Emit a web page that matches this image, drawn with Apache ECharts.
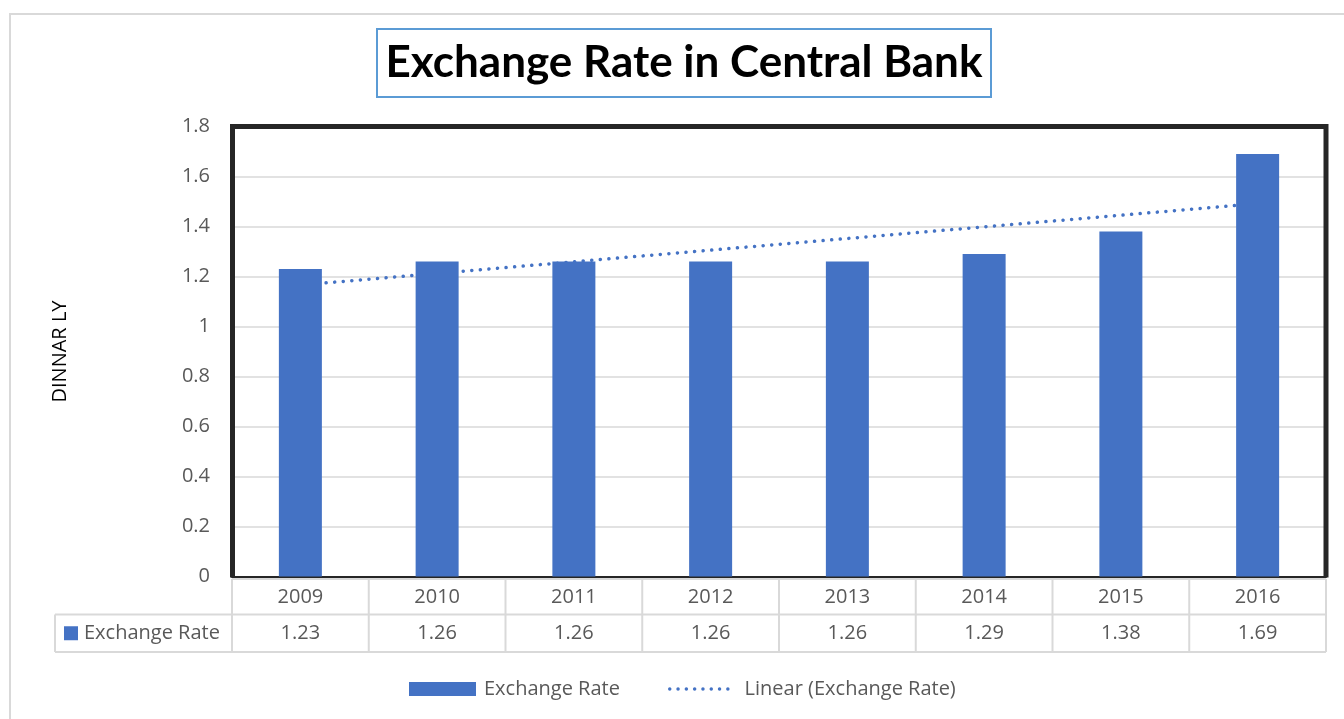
<!DOCTYPE html>
<html>
<head>
<meta charset="utf-8">
<title>Exchange Rate in Central Bank</title>
<script src="https://cdn.jsdelivr.net/npm/echarts@6/dist/echarts.min.js"></script>
<style>
  html, body { margin: 0; padding: 0; background: #ffffff; }
  #chart { width: 1344px; height: 719px; }
</style>
</head>
<body>
<div id="chart"></div>
<script>
// Yearly exchange rate (LYD)
const years = ['2009', '2010', '2011', '2012', '2013', '2014', '2015', '2016'];
const rates = [1.23, 1.26, 1.26, 1.26, 1.26, 1.29, 1.38, 1.69];

const seriesName = 'Exchange Rate';
const trendName = 'Linear (Exchange Rate)';
const axisName = 'DINNAR LY';
const titleText = 'Exchange Rate in Central Bank';

// Least-squares linear trend over the category index
function linearTrend(values) {
  const n = values.length;
  const mx = (n - 1) / 2;
  const my = values.reduce((a, b) => a + b, 0) / n;
  let sxy = 0, sxx = 0;
  values.forEach((v, i) => { sxy += (i - mx) * (v - my); sxx += (i - mx) * (i - mx); });
  const slope = sxy / sxx;
  return values.map((_, i) => my + slope * (i - mx));
}
const trend = linearTrend(rates);

const TITLE_FONT = 'Lato, "Open Sans", sans-serif';
const FONT = '"Open Sans", "Noto Sans", sans-serif';
const FS = 20;
const BLUE = '#4472c4';
const GRAY_TEXT = '#595959';
const LINE_GRAY = '#d9d9d9';

// Legend key for the trend: a row of round dots
function dotRowPath(count, step, r) {
  let p = 'path://';
  for (let i = 0; i < count; i++) {
    const cx = r + i * step;
    p += 'M' + (cx - r) + ',' + r + ' a' + r + ',' + r + ' 0 1,0 ' + (2 * r) + ',0 a' + r + ',' + r + ' 0 1,0 ' + (-2 * r) + ',0 ';
  }
  return p;
}
const dotIcon = dotRowPath(8, 8.3, 1.75);

const grid = { left: 232, right: 18, top: 126.5, bottom: 142.5 };

const chart = echarts.init(document.getElementById('chart'), null, { renderer: 'canvas' });

chart.setOption({
  animation: false,
  backgroundColor: '#ffffff',
  textStyle: { fontFamily: FONT },
  title: {
    text: titleText,
    left: 675,
    top: 29,
    textAlign: 'center',
    padding: [11, 9],
    borderColor: '#5b9bd5',
    borderWidth: 2,
    textStyle: { fontFamily: TITLE_FONT, fontWeight: 'bold', fontSize: 44, lineHeight: 46, color: '#000000' }
  },
  legend: [{
    left: 409, top: 679, padding: 0, itemWidth: 67, itemHeight: 14, itemGap: 10,
    textStyle: { fontFamily: FONT, fontSize: FS, color: GRAY_TEXT, padding: [0, 0, 0, 3] },
    data: [{ name: seriesName, icon: 'rect' }]
  }, {
    left: 668, top: 679, padding: 0, itemWidth: 61.6, itemHeight: 3.5, itemGap: 10,
    textStyle: { fontFamily: FONT, fontSize: FS, color: GRAY_TEXT, padding: [0, 0, 0, 10] },
    data: [{ name: trendName, icon: dotIcon }]
  }],
  grid: grid,
  xAxis: {
    type: 'category',
    data: years,
    axisLine: { show: true, lineStyle: { color: '#262626', width: 2 } },
    axisTick: { show: false },
    axisLabel: { show: false },
    splitLine: { show: false }
  },
  yAxis: {
    type: 'value',
    min: 0, max: 1.8, interval: 0.2,
    name: axisName,
    nameLocation: 'middle',
    nameRotate: 90,
    nameGap: 162,
    nameTextStyle: { fontFamily: FONT, fontSize: FS, color: '#000000' },
    axisLine: { show: false },
    axisTick: { show: false },
    axisLabel: { fontFamily: FONT, fontSize: FS, color: GRAY_TEXT, margin: 22 },
    splitLine: { lineStyle: { color: LINE_GRAY, width: 1.5 } }
  },
  series: [{
    name: trendName,
    type: 'line',
    data: trend,
    symbol: 'none',
    z: 1,
    lineStyle: { color: BLUE, width: 3.5, type: [0.1, 8.5], cap: 'round' },
    itemStyle: { color: BLUE }
  }, {
    name: seriesName,
    type: 'bar',
    data: rates,
    barWidth: 43,
    z: 3,
    itemStyle: { color: BLUE }
  }]
});

// Plot frame and data table under the axis
function drawTable() {
  const x0 = chart.convertToPixel({ xAxisIndex: 0 }, 0);
  const x1 = chart.convertToPixel({ xAxisIndex: 0 }, 1);
  const colW = x1 - x0;
  const left = x0 - colW / 2;
  const right = left + colW * years.length;
  const yTop = chart.convertToPixel({ yAxisIndex: 0 }, 1.8);
  const yBase = chart.convertToPixel({ yAxisIndex: 0 }, 0);

  const rowTop = yBase + 2.5;
  const rowMid = rowTop + 35.5;
  const rowBot = rowMid + 37.5;
  const tableLeft = 55;

  const els = [];
  const lineStyle = { stroke: LINE_GRAY, lineWidth: 2 };

  // outer chart frame
  els.push({ type: 'rect', shape: { x: 10, y: 14, width: 1400, height: 800 }, style: { fill: null, stroke: LINE_GRAY, lineWidth: 2 }, silent: true });

  // plot frame (left, top, right)
  els.push({
    type: 'polyline', z: 10,
    shape: { points: [[left + 0.5, yBase + 1], [left + 0.5, yTop], [right, yTop], [right, yBase + 1]] },
    style: { stroke: '#262626', lineWidth: 5, fill: null, lineJoin: 'miter' }, silent: true
  });

  // horizontal table rules
  els.push({ type: 'line', shape: { x1: left, y1: rowTop, x2: right, y2: rowTop }, style: lineStyle });
  els.push({ type: 'line', shape: { x1: tableLeft, y1: rowMid, x2: right, y2: rowMid }, style: lineStyle });
  els.push({ type: 'line', shape: { x1: tableLeft, y1: rowBot, x2: right, y2: rowBot }, style: lineStyle });
  els.push({ type: 'line', shape: { x1: tableLeft, y1: rowMid, x2: tableLeft, y2: rowBot }, style: lineStyle });

  for (let i = 0; i <= years.length; i++) {
    const x = left + i * colW;
    els.push({ type: 'line', shape: { x1: x, y1: rowTop, x2: x, y2: rowBot }, style: lineStyle });
  }

  years.forEach((y, i) => {
    const cx = chart.convertToPixel({ xAxisIndex: 0 }, i);
    els.push({ type: 'text', x: cx, y: (rowTop + rowMid) / 2 + 0.5, style: { text: y, fontFamily: FONT, fontSize: FS, fill: GRAY_TEXT, align: 'center', verticalAlign: 'middle' } });
    els.push({ type: 'text', x: cx, y: (rowMid + rowBot) / 2, style: { text: rates[i].toFixed(2), fontFamily: FONT, fontSize: FS, fill: GRAY_TEXT, align: 'center', verticalAlign: 'middle' } });
  });

  // series key in the table's first column
  els.push({ type: 'rect', shape: { x: 64, y: (rowMid + rowBot) / 2 - 7, width: 14, height: 14 }, style: { fill: BLUE } });
  els.push({ type: 'text', x: 84, y: (rowMid + rowBot) / 2, style: { text: seriesName, fontFamily: FONT, fontSize: FS, fill: GRAY_TEXT, align: 'left', verticalAlign: 'middle' } });

  chart.setOption({ graphic: { elements: els } });
}
drawTable();
</script>
</body>
</html>
